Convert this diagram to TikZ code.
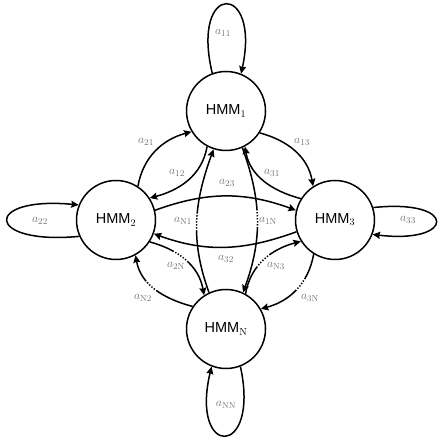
\documentclass[tikz,border=0pt]{standalone}
\usepackage{fontspec}
\setsansfont{Liberation Sans}
\usetikzlibrary{arrows.meta,decorations.markings}
\tikzset{
  hmm/.style={circle,draw,line width=1.5bp,minimum size=79bp,inner sep=0pt,
    font=\sffamily\fontsize{14.5bp}{16bp}\selectfont},
  edge/.style={line width=1.5bp,-{Stealth[length=7.5bp,width=7bp,inset=1bp]}},
  lab/.style={text=black!55,font=\fontsize{12.5bp}{13bp}\selectfont,inner sep=0pt},
  dotseg/.style 2 args={postaction={decorate},
    decoration={markings,mark=between positions #1 and #2 step 3bp with
      {\fill[white] (-0.7bp,-1.6bp) rectangle (0.7bp,1.6bp);}}}
}
\begin{document}
\begin{tikzpicture}[x=1bp,y=1bp]
\useasboundingbox (0,0) rectangle (441,443);
\node[hmm] (h1) at (226,332) {HMM$_\mathrm{1}$};
\node[hmm] (h2) at (116,223) {HMM$_\mathrm{2}$};
\node[hmm] (h3) at (335,223) {HMM$_\mathrm{3}$};
\node[hmm] (hN) at (226,114) {HMM$_\mathrm{N}$};
% self loops
\draw[edge] (h1.110) .. controls +(-22,92) and +(20,92) .. (h1.68);
\draw[edge] (h2.204) .. controls +(-95,-9) and +(-96,9) .. (h2.158);
\draw[edge] (h3.18) .. controls +(85,9) and +(83,-10) .. (h3.-21);
\draw[edge] (hN.-69) .. controls +(20,-92) and +(-22,-92) .. (hN.249);
% neighbours
\draw[edge] (h2.57) to[out=80,in=195] (h1.211);
\draw[edge] (h1.242) to[out=260,in=15] (h2.33);
\draw[edge] (h1.327) to[out=-15,in=100] (h3.123);
\draw[edge] (h3.148) to[out=165,in=280] (h1.298);
\draw[edge] (h2.14) to[out=20,in=160] (h3.166);
\draw[edge] (h3.197) to[out=200,in=-20] (h2.340);
\draw[edge,dotseg={0.44}{0.56}] (hN.115) to[out=110,in=250] (h1.252);
\draw[edge,dotseg={0.44}{0.56}] (h1.294) to[out=-70,in=70] (hN.65);
\draw[edge,dotseg={0.33}{0.52}] (h2.327) to[out=-15,in=100] (hN.123);
\draw[edge,dotseg={0.5}{0.68}] (hN.146) to[out=165,in=280] (h2.299);
\draw[edge,dotseg={0.38}{0.58}] (hN.61) to[out=80,in=195] (h3.212);
\draw[edge,dotseg={0.34}{0.52}] (h3.238) to[out=260,in=15] (hN.30);
% labels
\node[lab] (l11) at (223,410) {$a_{11}$};
\node[lab] (l22) at (40,222) {$a_{22}$};
\node[lab] (l33) at (408,223) {$a_{33}$};
\node[lab] (lNN) at (226,38) {$a_{\mathrm{NN}}$};
\node[lab] (l21) at (146,301) {$a_{21}$};
\node[lab] (l12) at (177,270) {$a_{12}$};
\node[lab] (l13) at (302,301) {$a_{13}$};
\node[lab] (l31) at (272,270) {$a_{31}$};
\node[lab] (l23) at (227,260) {$a_{23}$};
\node[lab] (l32) at (226,184) {$a_{32}$};
\node[lab] (lN1) at (183,222) {$a_{\mathrm{N1}}$};
\node[lab] (l1N) at (268,222) {$a_{\mathrm{1N}}$};
\node[lab] (l2N) at (176,177) {$a_{\mathrm{2N}}$};
\node[lab] (lN3) at (276,177) {$a_{\mathrm{N3}}$};
\node[lab] (lN2) at (143,145) {$a_{\mathrm{N2}}$};
\node[lab] (l3N) at (310,145) {$a_{\mathrm{3N}}$};
\end{tikzpicture}
\end{document}
